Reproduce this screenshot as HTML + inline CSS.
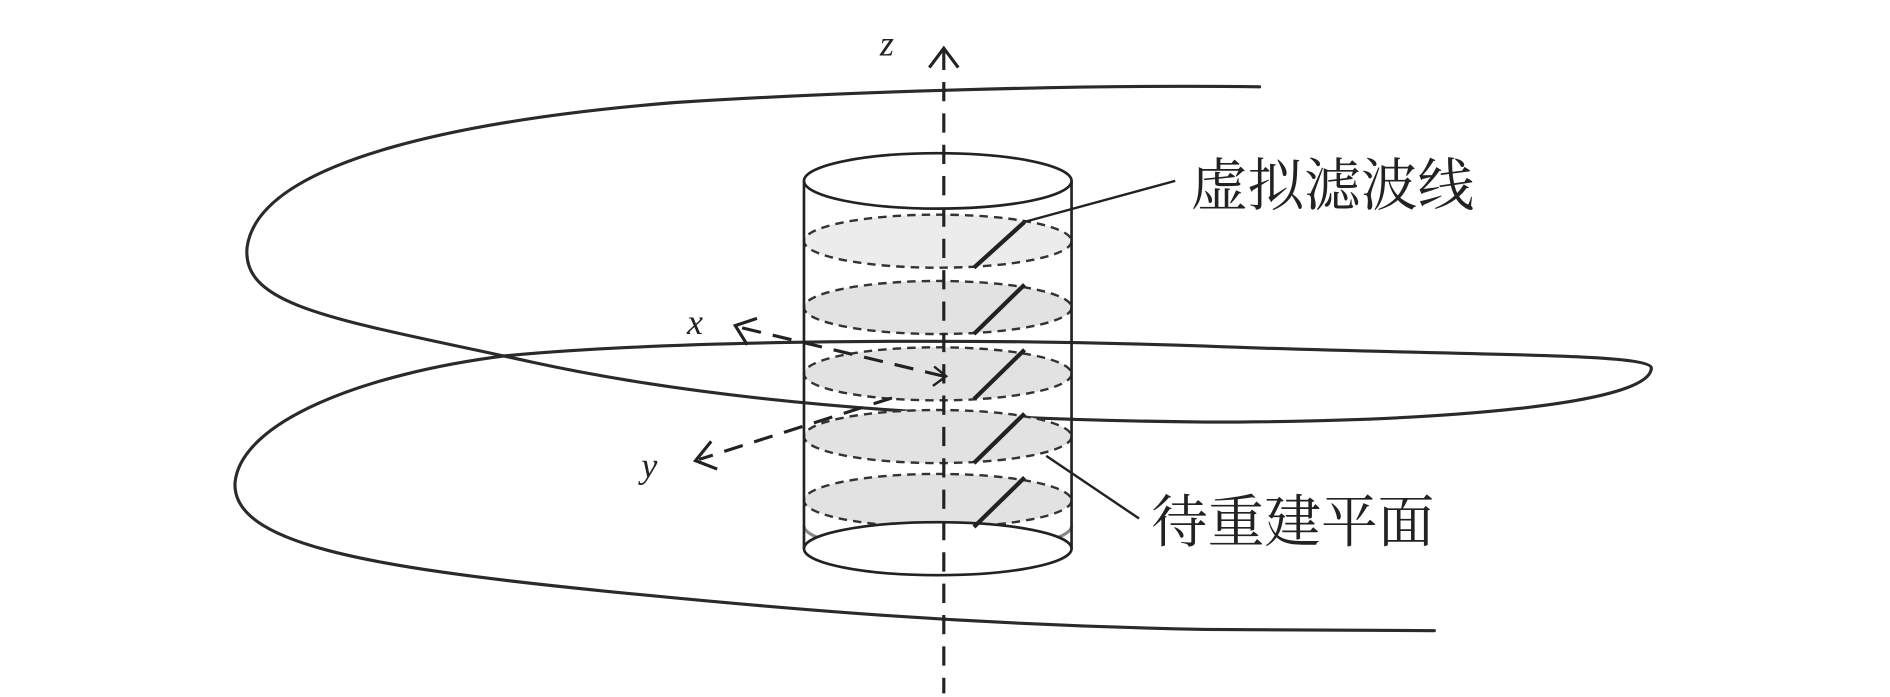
<!DOCTYPE html>
<html><head><meta charset="utf-8"><style>
html,body{margin:0;padding:0;background:#fff;}
svg{display:block;}
</style></head><body>
<svg width="1890" height="697" viewBox="0 0 1568 578" preserveAspectRatio="none" xmlns="http://www.w3.org/2000/svg">
<g fill="none" stroke="#2a2a2a" stroke-width="2.6" stroke-linecap="round">
<path d="M1045,72 C900,70 700,76 560,85 C400,98 215,130 205,205 C200,255 280,265 440,300 C600,335 800,348 1000,350 C1200,350 1370,335 1370,305 C1368,292 1200,295 1000,287 C800,280 560,282 420,295 C300,310 200,350 195,400 C192,450 300,470 500,490 C650,505 800,518 1000,522 L1190,523"/>
</g>
<g stroke="#333" stroke-width="2" stroke-dasharray="7,5" fill="#e2e2e2">
<ellipse cx="778" cy="200" rx="111" ry="22" fill="#ececec"/>
<ellipse cx="778" cy="255" rx="111" ry="22"/>
<ellipse cx="778" cy="310" rx="111" ry="22"/>
<ellipse cx="778" cy="362" rx="111" ry="22"/>
<ellipse cx="778" cy="415" rx="111" ry="22"/>
</g>
<g stroke="#222" stroke-width="2.2" fill="none">
<ellipse cx="778" cy="150" rx="111" ry="23" fill="#fff"/>
<path d="M667,436 A111,22 0 0,0 889,436" stroke="#888" stroke-width="2.5"/>
<ellipse cx="778" cy="455" rx="111" ry="22" fill="#fff"/>
<line x1="667" y1="150" x2="667" y2="455"/>
<line x1="889" y1="150" x2="889" y2="455"/>
</g>
<g stroke="#222" stroke-width="3.5">
<line x1="808" y1="222" x2="850" y2="184"/>
<line x1="808" y1="277" x2="850" y2="236"/>
<line x1="808" y1="331" x2="850" y2="290"/>
<line x1="808" y1="384" x2="850" y2="343"/>
<line x1="808" y1="437" x2="850" y2="396"/>
</g>
<g stroke="#222" stroke-width="2">
<line x1="850" y1="184" x2="975" y2="150"/>
<line x1="868" y1="378" x2="945" y2="430"/>
</g>
<g stroke="#222" stroke-width="2.6" fill="none">
<line x1="783" y1="42" x2="783" y2="575" stroke-dasharray="16,10"/>
<polyline points="771,56 783,40 795,56"/>
<line x1="783" y1="312" x2="612" y2="271" stroke-dasharray="16,10"/>
<polyline points="628,264 610,270 620,286"/>
<line x1="740" y1="330" x2="580" y2="381" stroke-dasharray="16,10"/>
<polyline points="590,366 577,382 595,389"/>
<polyline points="775,304 785,312 774,320" stroke-width="2"/>
</g>
<g font-family="Liberation Serif, serif" font-style="italic" font-size="30" fill="#222">
<text x="730" y="46">z</text>
<text x="570" y="277">x</text>
<text x="532" y="396">y</text>
</g>
<g font-family="'Liberation Serif', 'Noto Serif CJK SC', serif" font-size="47" fill="#222">
<text x="988" y="170">虚拟滤波线</text>
<text x="955" y="449">待重建平面</text>
</g>
</svg>
</body></html>
